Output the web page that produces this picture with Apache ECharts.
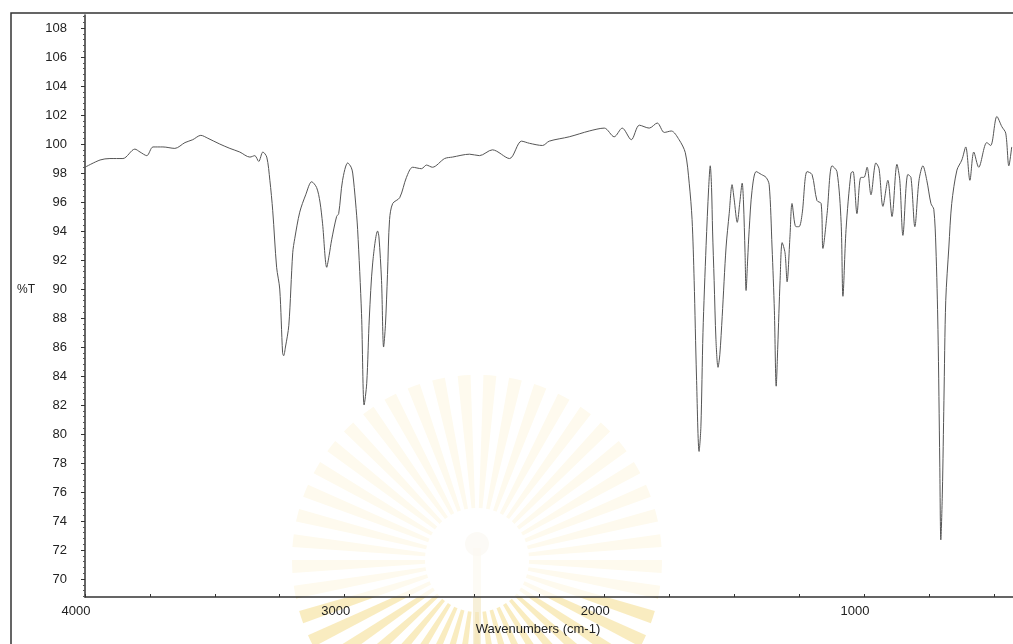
<!DOCTYPE html>
<html>
<head>
<meta charset="utf-8">
<script src="https://cdn.jsdelivr.net/npm/echarts@6/dist/echarts.min.js"></script>
<style>
  html, body { margin: 0; padding: 0; background: #fff; }
  #ir { width: 1013px; height: 644px; }
</style>
</head>
<body>
<div id="ir"></div>
<script>
// spectrum, wavenumber (cm-1) -> %T
var wavenumbers = [
  4000, 3942, 3904, 3854, 3808, 3788, 3762, 3738, 3700, 3654, 3615, 3585, 3554, 3527, 3481,
  3442, 3404, 3365, 3346, 3331, 3315, 3300, 3288, 3277, 3262, 3250, 3239, 3235, 3228, 3215,
  3200, 3192, 3173, 3150, 3127, 3108, 3095, 3085, 3069, 3060, 3050, 3031, 3023, 3008, 2988,
  2975, 2969, 2958, 2950, 2935, 2925, 2915, 2905, 2892, 2873, 2868, 2858, 2850, 2843, 2835,
  2827, 2815, 2788, 2762, 2738, 2704, 2685, 2662, 2615, 2585, 2519, 2481, 2431, 2365, 2319,
  2288, 2238, 2212, 2135, 2058, 2000, 1962, 1931, 1896, 1865, 1827, 1796, 1769, 1742, 1712,
  1688, 1673, 1662, 1654, 1645, 1635, 1628, 1620, 1608, 1598, 1592, 1587, 1583, 1577, 1570,
  1562, 1555, 1546, 1531, 1519, 1508, 1500, 1488, 1478, 1469, 1464, 1458, 1454, 1448, 1442,
  1431, 1415, 1395, 1377, 1365, 1354, 1345, 1338, 1332, 1323, 1315, 1304, 1296, 1285, 1277,
  1262, 1250, 1238, 1219, 1200, 1181, 1165, 1158, 1142, 1123, 1104, 1088, 1081, 1069, 1050,
  1042, 1027, 1012, 1000, 988, 973, 954, 942, 927, 908, 892, 873, 862, 850, 831,
  819, 804, 788, 773, 758, 742, 731, 723, 715, 708, 704, 698, 692, 685, 673,
  662, 642, 623, 608, 592, 577, 558, 527, 512, 488, 469, 454, 442, 431
];
var transmittance = [
  98.4, 98.9, 99.0, 99.0, 99.65, 99.45, 99.2, 99.8, 99.8, 99.7, 100.1, 100.3, 100.6, 100.4, 100.0,
  99.7, 99.45, 99.1, 99.2, 98.8, 99.45, 99.1, 97.5, 95.4, 91.5, 90.0, 85.6, 85.4, 86.0, 87.5,
  92.5, 93.5, 95.3, 96.5, 97.4, 97.0, 96.0, 94.5, 91.5, 92.3, 93.4, 95.0, 95.2, 97.5, 98.7,
  98.4, 98.0, 96.0, 94.1, 88.3, 82.0, 83.5, 88.0, 91.8, 94.0, 93.6, 90.6, 86.0, 87.5, 91.0,
  94.8, 95.9, 96.3, 97.7, 98.4, 98.3, 98.55, 98.4, 99.0, 99.1, 99.3, 99.2, 99.6, 99.0, 100.2,
  100.05, 99.9, 100.2, 100.5, 100.9, 101.1, 100.5, 101.1, 100.3, 101.3, 101.1, 101.45, 100.8, 100.9, 100.3,
  99.4, 97.3, 94.8, 90.6, 84.0, 78.8, 80.5, 87.0, 93.0, 97.0, 98.5, 97.0, 94.0, 90.6, 86.5,
  84.6, 85.5, 88.1, 92.9, 95.2, 97.2, 96.2, 94.6, 96.0, 97.3, 96.0, 92.5, 89.9, 92.0, 94.1,
  96.8, 98.1, 97.9, 97.7, 97.2, 92.9, 88.5, 83.3, 86.0, 90.6, 93.2, 92.5, 90.5, 93.6, 95.9,
  94.3, 94.3, 95.2, 98.1, 97.9, 96.1, 95.9, 92.8, 95.2, 98.5, 98.1, 94.6, 89.5, 94.1, 98.0,
  98.1, 95.2, 97.7, 97.7, 98.4, 96.5, 98.7, 98.3, 95.7, 97.5, 95.0, 98.6, 97.5, 93.7, 97.9,
  97.7, 94.3, 97.5, 98.5, 97.5, 95.9, 95.5, 92.9, 87.2, 78.0, 72.7, 76.0, 82.3, 89.2, 92.9,
  95.9, 98.2, 98.9, 99.8, 97.5, 99.45, 98.4, 100.1, 99.9, 101.9, 101.2, 100.75, 98.5, 99.8
];
var xLabelTicks = [4000, 3000, 2000, 1000];
var xMinorTicks = [4000, 3750, 3500, 3250, 3000, 2750, 2500, 2250, 2000, 1750, 1500, 1250, 1000, 750, 500];
var yTicks = [70, 72, 74, 76, 78, 80, 82, 84, 86, 88, 90, 92, 94, 96, 98, 100, 102, 104, 106, 108];

var points = wavenumbers.map(function (w, i) { return [w, transmittance[i]]; });

// faint emblem showing through the scanned page
var deco = [];
for (var a = 0; a < 360; a += 8) {
  deco.push({
    type: 'sector', silent: true, z: -30,
    shape: { cx: 477, cy: 560, r0: 52, r: 185, startAngle: a * Math.PI / 180, endAngle: (a + 4) * Math.PI / 180 },
    style: { fill: '#f4dd8c', opacity: 0.55 }
  });
}
deco.push({
  type: 'rect', silent: true, z: -29,
  shape: { x: 473, y: 548, width: 8, height: 100 },
  style: { fill: '#f1e6c0', opacity: 0.6 }
});
deco.push({
  type: 'circle', silent: true, z: -29,
  shape: { cx: 477, cy: 544, r: 12 },
  style: { fill: '#efe7cf', opacity: 0.7 }
});
// plot area of the scan is paler than the margin
deco.push({
  type: 'rect', silent: true, z: -20,
  shape: { x: 85, y: 15, width: 928, height: 582 },
  style: { fill: '#fff', opacity: 0.72 }
});

var chart = echarts.init(document.getElementById('ir'));
chart.setOption({
  backgroundColor: '#fff',
  animation: false,
  textStyle: { fontFamily: 'Liberation Sans, Arial, sans-serif' },
  grid: { left: 85, right: 0, top: 15, bottom: 47 },
  graphic: deco.concat([
    {
      type: 'rect', silent: true,
      shape: { x: 11, y: 13, width: 1100, height: 700 },
      style: { fill: 'none', stroke: '#333', lineWidth: 1.5 }
    },
    {
      type: 'text', left: 17, top: 284,
      style: { text: '%T', fill: '#222', font: '12px "Liberation Sans", Arial, sans-serif' }
    }
  ]),
  xAxis: {
    type: 'value',
    inverse: true,
    min: 426,
    max: 4000,
    name: 'Wavenumbers (cm-1)',
    nameLocation: 'middle',
    nameGap: 23,
    nameTextStyle: { fontSize: 13, color: '#222', padding: [0, 22, 0, 0] },
    axisLine: { show: true, lineStyle: { color: '#333', width: 1.5 } },
    axisTick: { show: true, inside: true, length: 3, customValues: xMinorTicks, lineStyle: { color: '#333' } },
    axisLabel: {
      customValues: xLabelTicks, fontSize: 13, color: '#222', margin: 8, padding: [0, 18, 0, 0],
      formatter: function (v) { return String(v); }
    },
    splitLine: { show: false }
  },
  yAxis: {
    type: 'value',
    min: 68.76,
    max: 108.9,
    splitNumber: 20,
    axisLine: { show: true, lineStyle: { color: '#333', width: 1.5 } },
    axisTick: { show: true, length: 4, customValues: yTicks, lineStyle: { color: '#333' } },
    minorTick: { show: true, splitNumber: 5, length: 2, lineStyle: { color: '#555' } },
    axisLabel: {
      customValues: yTicks, fontSize: 13, color: '#222', margin: 18,
      formatter: function (v) { return String(v); }
    },
    splitLine: { show: false }
  },
  series: [{
    type: 'line',
    data: points,
    showSymbol: false,
    smooth: 0.3,
    lineStyle: { color: '#555', width: 1 }
  }]
});
</script>
</body>
</html>
